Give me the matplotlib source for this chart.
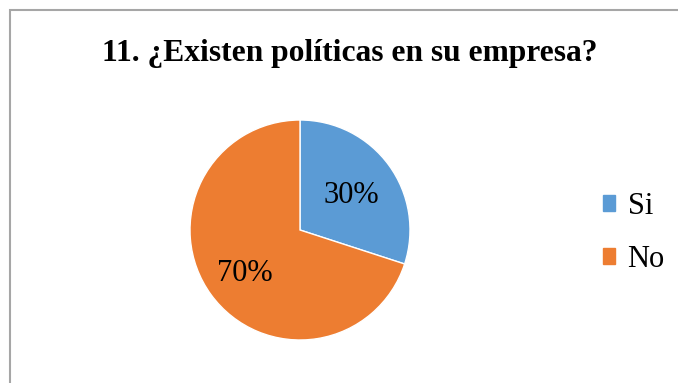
import matplotlib
matplotlib.use("Agg")

import matplotlib.pyplot as plt
from matplotlib.patches import Rectangle, Patch

# data
labels = ["Si", "No"]
values = [30, 70]
colors = ["#5B9BD5", "#ED7D31"]
title = "11. ¿Existen políticas en su empresa?"

W, H = 678, 383
fig = plt.figure(figsize=(W / 100, H / 100), dpi=100)
plt.rcParams["font.family"] = ["Liberation Serif", "DejaVu Serif"]

# chart border (runs off the right and bottom edges)
fig.patches.append(Rectangle((10 / W, -0.1), 1.0, (H - 9.5) / H + 0.1,
                             transform=fig.transFigure, fill=False,
                             edgecolor="#A6A6A6", lw=1.5))

fig.text(350 / W, (H - 54) / H, title, ha="center", va="center",
         fontsize=22.7, fontweight="bold")

ax = fig.add_axes([190 / W, (H - 340) / H, 220 / W, 220 / H])
wedges, texts, autotexts = ax.pie(values, colors=colors, startangle=90,
                                  counterclock=False, autopct="%1.0f%%",
                                  pctdistance=0.6,
                                  wedgeprops=dict(edgecolor="white", lw=1),
                                  textprops=dict(fontsize=22))
# nudge the percentage labels slightly down, like the original
for t in autotexts:
    x, y = t.get_position()
    t.set_position((x - 0.02, y - 0.04))
ax.set_xlim(-1, 1)
ax.set_ylim(-1, 1)
ax.set_aspect("equal")

handles = [Patch(facecolor=c, edgecolor=c) for c in colors]
fig.legend(handles, labels, loc="center left",
           bbox_to_anchor=(575 / W, (H - 233) / H), frameon=False,
           fontsize=22, handlelength=0.42, handleheight=0.42,
           handletextpad=0.4, labelspacing=0.78)

plt.savefig("out.png", dpi=100)
plt.close()
